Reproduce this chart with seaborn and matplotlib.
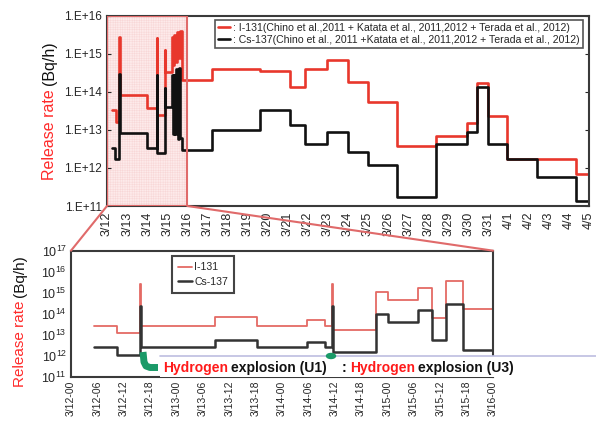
import numpy as np
import pandas as pd
import seaborn as sns
import matplotlib.pyplot as plt
from matplotlib.patches import Rectangle, ConnectionPatch, Ellipse
from matplotlib.lines import Line2D
from matplotlib.ticker import NullLocator
from matplotlib.transforms import IdentityTransform

# top panel: days after 3/12 00:00, log10 release rate (Bq/h)
i131_day = [0.26, 0.44, 0.61, 0.64, 1.98, 2.47, 2.50, 2.88, 2.90, 3.22, 3.30, 3.36, 3.44,
            3.50, 3.58, 3.62, 3.72, 5.23, 7.62, 9.11, 9.86, 10.96, 12.0, 13.0, 14.45,
            16.38, 17.93, 18.43, 18.97, 19.92, 23.36, 24.0]
i131_log = [13.53, 13.2, 15.46, 13.92, 13.57, 15.43, 13.39, 15.1, 14.53, 15.45, 14.7, 15.5, 14.8,
            15.58, 14.9, 15.6, 14.32, 14.6, 14.55, 14.13, 14.6, 14.84, 14.26, 13.74, 12.58,
            12.84, 13.18, 14.24, 13.37, 12.24, 11.84, 11.84]
cs137_day = [0.26, 0.39, 0.61, 0.64, 1.98, 2.47, 2.50, 2.88, 2.90, 3.22, 3.28, 3.34, 3.40,
             3.46, 3.52, 3.58, 3.64, 3.72, 5.23, 7.62, 9.11, 9.86, 10.96, 12.0, 13.0, 14.45,
             16.38, 17.93, 18.43, 18.97, 19.92, 21.4, 23.36, 24.0]
cs137_log = [12.53, 12.23, 14.47, 12.91, 12.53, 14.45, 12.39, 14.1, 13.6, 14.45, 12.9, 14.45, 12.9,
             14.6, 12.75, 14.63, 12.8, 12.47, 13.0, 13.53, 13.13, 12.63, 12.95, 12.42, 12.08, 11.24,
             12.63, 12.95, 14.13, 12.63, 12.24, 11.76, 11.13, 11.13]
day_labels = ['3/%d' % d for d in range(12, 32)] + ['4/%d' % d for d in range(1, 6)]

# bottom panel: hours after 3/12 00:00
zoom_hour = [5.3, 10.4, 15.6, 15.9, 32.8, 42.3, 53.6, 57.7, 59.3, 59.6, 69.3, 72.2, 79.0,
             82.2, 85.2, 89.2, 96.0]
zoom_i131_log = [13.43, 13.07, 15.41, 13.43, 13.83, 13.43, 13.7, 13.43, 15.41, 13.22, 15.05,
                 14.65, 15.21, 13.78, 15.56, 14.21, 14.21]
zoom_cs137_log = [12.43, 12.03, 14.38, 12.43, 12.75, 12.43, 12.64, 12.43, 14.38, 12.19, 13.99,
                  13.62, 14.18, 12.75, 14.46, 12.27, 12.27]
hour_labels = ['3/%d-%02d' % (12 + h // 24, h % 24) for h in range(0, 97, 6)]

sns.set_style('white')
plt.rcParams['font.family'] = ['Liberation Sans', 'DejaVu Sans']
plt.rcParams['mathtext.fontset'] = 'custom'
plt.rcParams['mathtext.rm'] = 'Liberation Sans'
plt.rcParams['hatch.linewidth'] = 0.3

RED = '#e8372c'
BLACK = '#111111'

fig = plt.figure(figsize=(5.96, 4.23), dpi=100)
ax1 = fig.add_axes([0.1795, 0.513, 0.8087, 0.4492])
ax2 = fig.add_axes([0.1191, 0.1095, 0.7081, 0.2979])

top = pd.DataFrame({'day': i131_day, 'rate': 10 ** np.array(i131_log)})
top_cs = pd.DataFrame({'day': cs137_day, 'rate': 10 ** np.array(cs137_log)})

# shaded zoom window
ax1.axvspan(0, 4, facecolor='#fdeaea', edgecolor='#f7d4d4', hatch='+' * 7, lw=0, zorder=0)
ax1.axvspan(0, 4, fill=False, edgecolor='#e06a6a', lw=1.5, zorder=3)

sns.lineplot(data=top, x='day', y='rate', ax=ax1, color=RED, lw=1.9,
             drawstyle='steps-post', estimator=None, label=': I-131(Chino et al.,2011 + Katata et al., 2011,2012 + Terada et al., 2012)')
sns.lineplot(data=top_cs, x='day', y='rate', ax=ax1, color=BLACK, lw=1.9,
             drawstyle='steps-post', estimator=None, label=': Cs-137(Chino et al., 2011 +Katata et al., 2011,2012 + Terada et al., 2012)')

ax1.set_yscale('log')
ax1.set_ylim(1e11, 1e16)
ax1.set_xlim(0, 24)
ax1.set_yticks([1e11, 1e12, 1e13, 1e14, 1e15, 1e16],
               ['1.E+11', '1.E+12', '1.E+13', '1.E+14', '1.E+15', '1.E+16'])
ax1.yaxis.set_minor_locator(NullLocator())
ax1.set_xticks(range(25), day_labels, rotation=90)
ax1.tick_params(axis='x', direction='in', length=3, labelsize=9, pad=4)
ax1.tick_params(axis='y', direction='in', length=3, labelsize=8.5, right=True, left=True)
ax1.set_xlabel('')
ax1.set_ylabel('')
leg = ax1.legend(loc='upper right', bbox_to_anchor=(0.9876, 0.979), borderaxespad=0,
                 fontsize=7.6, handlelength=1.1, handletextpad=0.3, fancybox=False,
                 framealpha=1, edgecolor='#555555', borderpad=0.3, labelspacing=0.15)
leg.get_frame().set_linewidth(1.2)

bot = pd.DataFrame({'hour': zoom_hour, 'i131': 10 ** np.array(zoom_i131_log),
                    'cs137': 10 ** np.array(zoom_cs137_log)})
sns.lineplot(data=bot, x='hour', y='i131', ax=ax2, color='#e46a64', lw=1.3,
             drawstyle='steps-post', estimator=None, label='I-131')
sns.lineplot(data=bot, x='hour', y='cs137', ax=ax2, color='#333333', lw=1.8,
             drawstyle='steps-post', estimator=None, label='Cs-137')
ax2.set_yscale('log')
ax2.set_ylim(1e11, 1e17)
ax2.set_xlim(0, 96)
ax2.set_yticks([1e11, 1e12, 1e13, 1e14, 1e15, 1e16, 1e17])
ax2.yaxis.set_minor_locator(NullLocator())
ax2.set_xticks(range(0, 97, 6), hour_labels, rotation=90)
ax2.tick_params(axis='x', direction='in', length=2, labelsize=7.5, pad=3)
ax2.tick_params(axis='y', direction='in', length=0, labelsize=9, pad=3)
ax2.set_xlabel('')
ax2.set_ylabel('')
leg2 = ax2.legend(loc='upper left', bbox_to_anchor=(0.239, 0.958), borderaxespad=0,
                  fontsize=7.6, handlelength=1.3, handletextpad=0.2, fancybox=False,
                  framealpha=1, edgecolor='#444444', borderpad=0.6, labelspacing=0.4)
leg2.get_frame().set_linewidth(1.5)

for ax in (ax1, ax2):
    for sp in ax.spines.values():
        sp.set_color('#3a3a3a')
        sp.set_linewidth(1.5)

# lines joining the window to the zoomed panel
for xa, xb in [(0, 0), (4, 96)]:
    con = ConnectionPatch(xyA=(xa, 1e11), coordsA=ax1.transData, xyB=(xb, 1e17),
                          coordsB=ax2.transData, color='#e06a6a', lw=1.5)
    fig.add_artist(con)

px = IdentityTransform()


def multicolor(x, y, parts, rotation=0, gap=0.0, **kw):
    r = fig.canvas.get_renderer()
    for s, c in parts:
        t = fig.text(x, y, s, color=c, rotation=rotation, rotation_mode='anchor',
                     ha='left', va='baseline', transform=px, **kw)
        bb = t.get_window_extent(r)
        if rotation == 90:
            y += bb.height + gap
        else:
            x += bb.width + gap


multicolor(53.5, 243, [('Release rate', '#ff2a2a'), ('(Bq/h)', '#111111')], rotation=90,
           gap=4, fontsize=11.5)
multicolor(24, 36, [('Release rate', '#ff2a2a'), ('(Bq/h)', '#111111')], rotation=90,
           gap=4, fontsize=11)

# explosion note
fig.add_artist(Rectangle((160, 46), 436, 21, transform=px, facecolor='white',
                         edgecolor='none', zorder=5))
fig.add_artist(Line2D([160, 596], [67, 67], transform=px, color='#bdbde0', lw=1.2, zorder=5))
multicolor(163, 51, [('Hydrogen', '#ff1a1a'), ('explosion (U1)', '#111111')], gap=3,
           fontsize=10, fontweight='bold', zorder=6)
multicolor(342, 51, [(':', '#111111'), ('Hydrogen', '#ff1a1a'), ('explosion (U3)', '#111111')],
           gap=3, fontsize=10, fontweight='bold', zorder=6)
fig.add_artist(Line2D([143, 144, 146, 150, 158], [71, 61, 57, 55.5, 55.5], transform=px,
                      color='#1a9a68', lw=5, solid_capstyle='butt', solid_joinstyle='round',
                      zorder=6))
fig.add_artist(Ellipse((331, 67), 9, 5, transform=px, color='#1a9a68', zorder=6))

fig.savefig('out.png', dpi=100)
